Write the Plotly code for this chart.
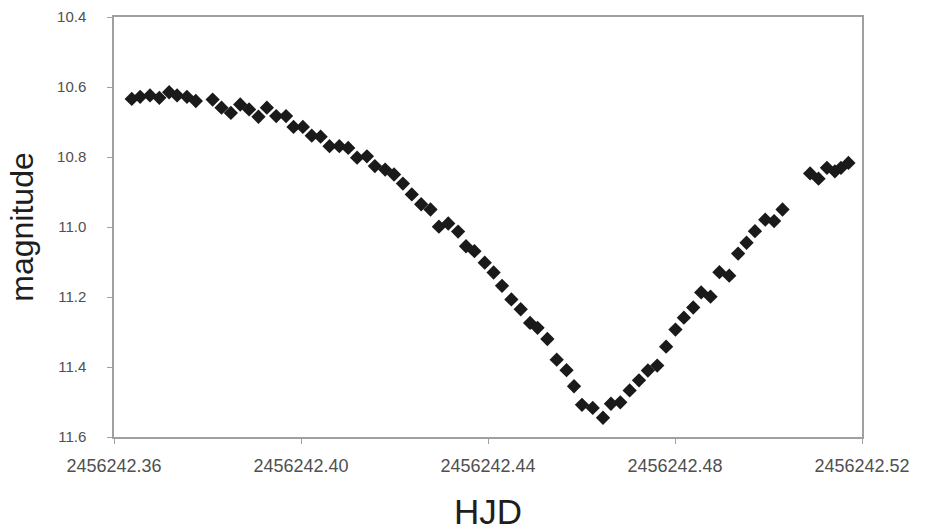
import plotly.graph_objects as go

hjd = [
    2456242.3638, 2456242.3656, 2456242.3677, 2456242.3697, 2456242.3718, 2456242.3735,
    2456242.3756, 2456242.3775, 2456242.3811, 2456242.3830, 2456242.3850, 2456242.3870,
    2456242.3889, 2456242.3909, 2456242.3927, 2456242.3947, 2456242.3968, 2456242.3984,
    2456242.4004, 2456242.4023, 2456242.4042, 2456242.4061, 2456242.4082, 2456242.4101,
    2456242.4120, 2456242.4141, 2456242.4158, 2456242.4180, 2456242.4199, 2456242.4218,
    2456242.4237, 2456242.4257, 2456242.4277, 2456242.4295, 2456242.4315, 2456242.4336,
    2456242.4353, 2456242.4371, 2456242.4393, 2456242.4412, 2456242.4430, 2456242.4450,
    2456242.4470, 2456242.4490, 2456242.4506, 2456242.4527, 2456242.4547, 2456242.4568,
    2456242.4584, 2456242.4601, 2456242.4624, 2456242.4646, 2456242.4663, 2456242.4683,
    2456242.4703, 2456242.4723, 2456242.4742, 2456242.4762, 2456242.4781, 2456242.4801,
    2456242.4819, 2456242.4839, 2456242.4856, 2456242.4876, 2456242.4895, 2456242.4916,
    2456242.4935, 2456242.4953, 2456242.4971, 2456242.4993, 2456242.5012, 2456242.5030,
    2456242.5089, 2456242.5107, 2456242.5125, 2456242.5142, 2456242.5155, 2456242.5171,
]
magnitude = [
    10.634, 10.628, 10.624, 10.631, 10.615, 10.624,
    10.628, 10.640, 10.636, 10.659, 10.674, 10.650,
    10.664, 10.685, 10.659, 10.683, 10.683, 10.714,
    10.714, 10.739, 10.742, 10.769, 10.769, 10.774,
    10.802, 10.798, 10.826, 10.836, 10.850, 10.876,
    10.907, 10.935, 10.950, 10.999, 10.990, 11.013,
    11.055, 11.069, 11.102, 11.130, 11.168, 11.207,
    11.235, 11.274, 11.288, 11.320, 11.379, 11.409,
    11.455, 11.508, 11.517, 11.545, 11.505, 11.501,
    11.467, 11.438, 11.410, 11.396, 11.342, 11.293,
    11.259, 11.230, 11.187, 11.199, 11.129, 11.139,
    11.076, 11.045, 11.012, 10.979, 10.983, 10.950,
    10.847, 10.862, 10.831, 10.841, 10.831, 10.817,
]

x_ticks = [2456242.36, 2456242.40, 2456242.44, 2456242.48, 2456242.52]
x_tick_labels = ["2456242.36", "2456242.40", "2456242.44", "2456242.48", "2456242.52"]
y_ticks = [10.4, 10.6, 10.8, 11.0, 11.2, 11.4, 11.6]
y_tick_labels = ["10.4", "10.6", "10.8", "11.0", "11.2", "11.4", "11.6"]

FONT = "Liberation Sans, Arial, sans-serif"

fig = go.Figure(go.Scatter(
    x=hjd, y=magnitude, mode="markers",
    marker=dict(symbol="diamond", size=11, color="#1a1a1a", line=dict(width=0)),
    showlegend=False,
))

axis_common = dict(
    showline=True, mirror=True, linecolor="#a0a0a0", linewidth=1.5,
    showgrid=False, zeroline=False, automargin=False,
    ticks="outside", ticklen=5, tickcolor="#a0a0a0", tickwidth=1,
)

fig.update_layout(
    width=925, height=531,
    margin=dict(l=114, r=63, t=17, b=94),
    paper_bgcolor="white", plot_bgcolor="white",
    font=dict(family=FONT, color="#505050"),
    xaxis=dict(
        range=[2456242.36, 2456242.52],
        tickmode="array", tickvals=x_ticks, ticktext=x_tick_labels,
        tickfont=dict(size=18, color="#505050"),
        ticklabelstandoff=7,
        title=dict(text="HJD", font=dict(size=35, color="#1e1e1e"), standoff=25),
        **axis_common,
    ),
    yaxis=dict(
        range=[11.6, 10.4],
        tickmode="array", tickvals=y_ticks, ticktext=y_tick_labels,
        tickfont=dict(size=15, color="#505050"),
        ticklabelstandoff=18,
        title=dict(text="magnitude", font=dict(size=32, color="#1e1e1e"), standoff=14),
        **axis_common,
    ),
)

fig.write_html("out.html")
